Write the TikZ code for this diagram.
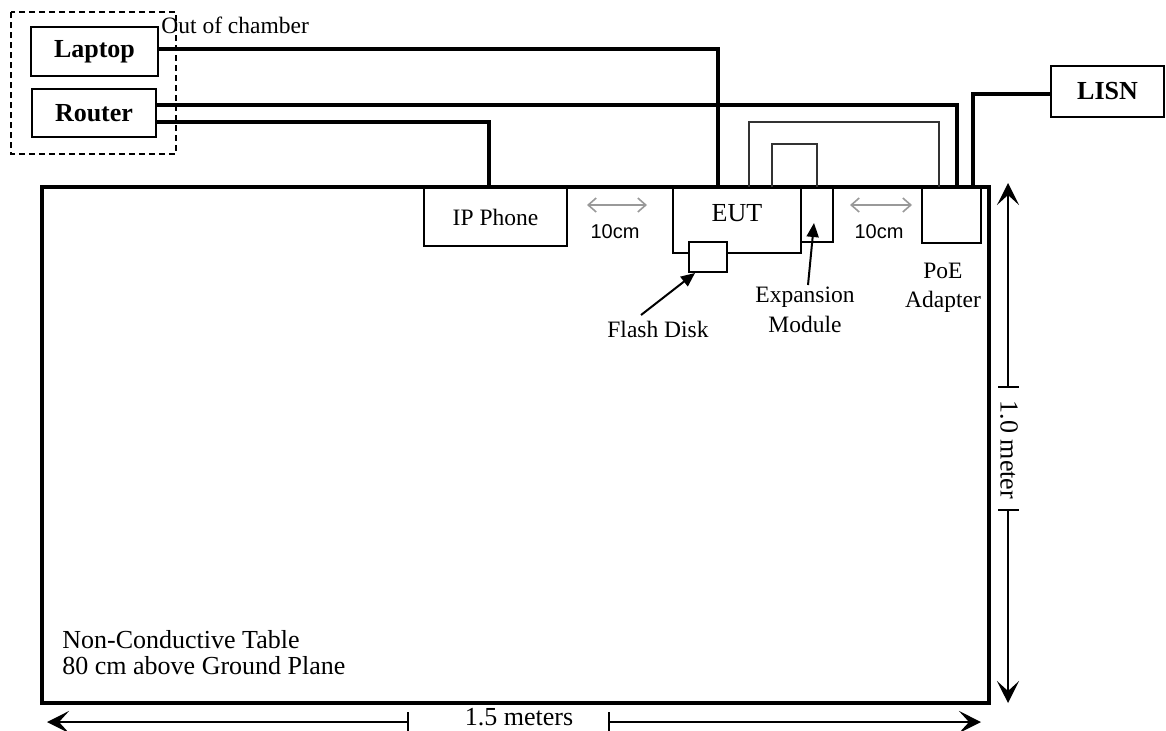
\documentclass[tikz,border=0pt]{standalone}
\usepackage{fontspec}
\setmainfont{Liberation Serif}
\newfontfamily\arialfont{Liberation Sans}
\usetikzlibrary{arrows.meta}
\begin{document}
\begin{tikzpicture}[x=0.5pt,y=-0.5pt,
  box/.style={draw, line width=1pt, inner sep=0pt, fill=white},
  bigbold/.style={font=\fontsize{13}{15}\selectfont\bfseries},
  big/.style={font=\fontsize{13}{15}\selectfont},
  small/.style={font=\fontsize{11.75}{14}\selectfont},
  sans/.style={font=\arialfont\fontsize{10}{12}\selectfont},
  cable/.style={line width=1.6pt},
  thincable/.style={line width=0.9pt, black!80},
  dimline/.style={line width=1pt},
  dimtip/.style={-{Stealth[length=11pt,width=11pt,inset=5pt]}},
  gaparrow/.style={gray!80, line width=0.8pt, {Straight Barb[length=4pt,width=7pt]}-{Straight Barb[length=4pt,width=7pt]}},
  pointer/.style={line width=1pt, -{Triangle[length=7pt,width=6pt]}}
]
\useasboundingbox (0,0) rectangle (1166,730);

% out of chamber
\draw[line width=0.9pt, dash pattern=on 3pt off 2pt] (11,12) rectangle (176,154);
\node[box, bigbold, minimum width=63.5pt, minimum height=24.5pt] (laptop) at (94.5,51.5) {Laptop};
\node[box, bigbold, minimum width=62pt, minimum height=24pt] (router) at (94,113) {Router};
\node[small, anchor=base west, inner sep=0pt] (outlbl) at (161,33) {Out of chamber};
\node[box, bigbold, minimum width=56.5pt, minimum height=25.5pt] (lisn) at (1107.5,91.5) {LISN};

% devices on table
\node[box, small, minimum width=71.5pt, minimum height=29pt] (ipphone) at (495.5,217) {IP Phone};
\node[box, minimum width=64pt, minimum height=32.5pt] (eut) at (737,220.5) {};
\node[big, inner sep=0pt] (eutlbl) at (737,213) {EUT};
\node[box, minimum width=19pt, minimum height=15pt] (flash) at (708,257) {};
\node[box, minimum width=16pt, minimum height=27pt] (expmod) at (817,215) {};
\node[box, minimum width=29.5pt, minimum height=27.5pt] (poe) at (951.5,215.5) {};

% table
\node[draw, line width=1.7pt, minimum width=473.5pt, minimum height=258pt, inner sep=0pt] (table) at (515.5,445) {};

% cables
\draw[cable] ([yshift=1.25pt]laptop.east) -| ([xshift=-9.5pt]eut.north);
\draw[cable] ([yshift=4pt]router.east) -| ([xshift=2.75pt]poe.north);
\draw[cable] ([yshift=-4.5pt]router.east) -| ([xshift=-3.25pt]ipphone.north);
\draw[cable] ([yshift=-1.25pt]lisn.west) -| ([xshift=10.75pt]poe.north);
\draw[thincable] ([xshift=6pt]eut.north) -- ++(0,-65) -| ([xshift=-6.25pt]poe.north);
\draw[thincable] ([xshift=17.5pt]eut.north) -- ++(0,-43) -| (expmod.north);

% spacing arrows
\coordinate (g1a) at (587,205); \coordinate (g1b) at (647,205);
\coordinate (g2a) at (850,205); \coordinate (g2b) at (912,205);
\draw[gaparrow] (g1a) -- (g1b);
\draw[gaparrow] (g2a) -- (g2b);
\node[sans, anchor=base, inner sep=0pt] (d1) at (615,238) {10cm};
\node[sans, anchor=base, inner sep=0pt] (d2) at (879,238) {10cm};

% labels with pointers
\node[small, anchor=base, inner sep=0pt] (flashlbl) at (658,337) {Flash Disk};
\coordinate (fp) at (641,315);
\draw[pointer] (fp) -- ([xshift=3.5pt]flash.south west);
\node[small, anchor=base, inner sep=0pt] (explbl1) at (805,302) {Expansion};
\node[small, anchor=base, inner sep=0pt] (explbl2) at (805,332) {Module};
\coordinate (ep) at (808,285); \coordinate (et) at (814,223);
\draw[pointer] (ep) -- (et);
\node[small, anchor=base, inner sep=0pt] (poelbl1) at (943,278) {PoE};
\node[small, anchor=base, inner sep=0pt] (poelbl2) at (943,307) {Adapter};

% table text
\node[big, anchor=base west, inner sep=0pt] (tt1) at (62,648) {Non-Conductive Table};
\node[big, anchor=base west, inner sep=0pt] (tt2) at (62,674) {80 cm above Ground Plane};

% vertical dimension
\coordinate (vt) at (1008,183); \coordinate (vb) at (1008,703);
\coordinate (vk1) at (1008,387); \coordinate (vk2) at (1008,510);
\draw[dimline, dimtip] (vk1) -- (vt);
\draw[dimline, dimtip] (vk2) -- (vb);
\draw[dimline] (998,387) -- (1019,387);
\draw[dimline] (998,510) -- (1019,510);
\node[big, rotate=-90, inner sep=0pt] (vlbl) at (1009,450) {1.0 meter};

% horizontal dimension
\coordinate (hl) at (47,722); \coordinate (hr) at (981,722);
\coordinate (hk1) at (408,722); \coordinate (hk2) at (609,722);
\draw[dimline, dimtip] (hk1) -- (hl);
\draw[dimline, dimtip] (hk2) -- (hr);
\draw[dimline] (408,712) -- (408,732);
\draw[dimline] (609,712) -- (609,732);
\node[big, anchor=base, inner sep=0pt] (hlbl) at (519,725) {1.5 meters};
\end{tikzpicture}
\end{document}
